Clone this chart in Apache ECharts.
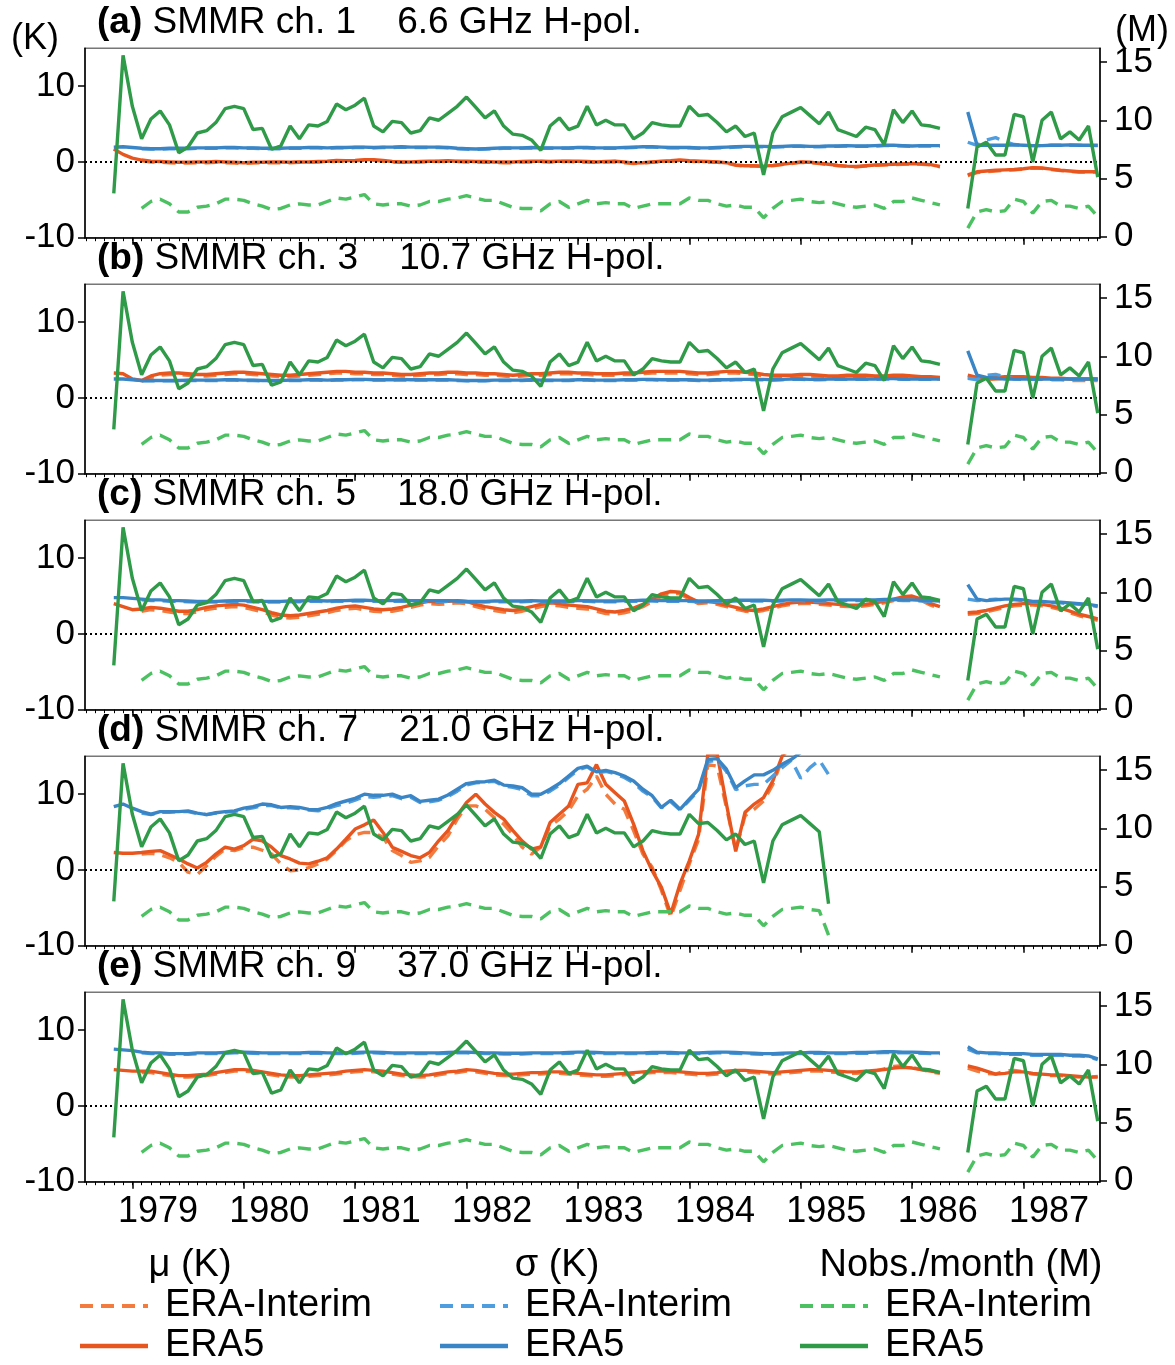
<!DOCTYPE html>
<html><head><meta charset="utf-8">
<script src="https://cdn.jsdelivr.net/npm/echarts@6/dist/echarts.min.js"></script>
<style>html,body{margin:0;padding:0;background:#fff}#c{width:1175px;height:1365px}</style>
</head><body><div id="c"></div><script>
// ---- time axis: monthly points, first month Nov 1978 ----
const FIRST_YEAR = 1978, FIRST_MONTH = 11;
const YEARS = [1979, 1980, 1981, 1982, 1983, 1984, 1985, 1986, 1987];

// ---- (a) SMMR ch.1 6.6 GHz ----
const muA_E5 = [
1.7, 1.0, 0.5, 0.25, 0.1, 0.05, 0.0, -0.05, -0.05, 0.0, 0.0, 0.05,
0.0, -0.05, -0.1, -0.05, -0.05, 0.0, 0.0, -0.05, 0.0, 0.0, 0.05, 0.1,
0.2, 0.15, 0.2, 0.3, 0.3, 0.2, 0.05, 0.0, 0.0, 0.05, 0.1, 0.1,
0.15, 0.1, 0.1, 0.05, 0.05, 0.0, 0.0, 0.0, 0.05, 0.1, 0.1, 0.05,
0.1, 0.1, 0.1, 0.05, 0.0, 0.05, 0.1, 0.0, -0.15, -0.1, 0.0, 0.1,
0.15, 0.25, 0.15, 0.1, 0.05, 0.0, -0.1, -0.4, -0.5, -0.5, -0.55, -0.45,
-0.3, -0.15, 0.0, -0.05, -0.15, -0.3, -0.45, -0.55, -0.6, -0.5, -0.4, -0.35,
-0.3, -0.25, -0.2, -0.25, -0.35, -0.6, null, null, -1.7, -1.3, -1.2, -1.1,
-1.05, -1.0, -0.9, -0.75, -0.8, -0.95, -1.1, -1.2, -1.3, -1.3, -1.3];
const muA_EI = [
null, null, null, 0.15, 0.0, -0.05, -0.1, -0.15, -0.15, -0.1, -0.1, -0.05,
-0.1, -0.15, -0.2, -0.15, -0.1, -0.1, -0.1, -0.1, -0.05, 0.0, 0.0, 0.05,
0.1, 0.1, 0.15, 0.2, 0.2, 0.1, 0.0, -0.05, -0.05, 0.0, 0.05, 0.05,
0.1, 0.05, 0.0, 0.0, -0.05, -0.05, -0.1, -0.1, 0.0, 0.0, 0.05, 0.0,
0.05, 0.05, 0.0, 0.0, -0.05, 0.0, 0.05, -0.1, -0.2, -0.15, -0.05, 0.05,
0.1, 0.2, 0.1, 0.05, 0.0, -0.05, -0.15, -0.45, -0.55, -0.55, -0.6, -0.5,
-0.35, -0.2, -0.05, -0.1, -0.2, -0.35, -0.5, -0.6, -0.65, -0.55, -0.45, -0.4,
-0.35, -0.3, -0.25, -0.3, -0.4, -0.65, null, null, -1.8, -1.4, -1.3, -1.2,
-1.1, -1.05, -0.95, -0.8, -0.85, -1.0, -1.15, -1.25, -1.35, -1.35, -1.35];
const sigA_E5 = [
1.95, 2.0, 1.9, 1.8, 1.75, 1.75, 1.8, 1.8, 1.8, 1.85, 1.85, 1.85,
1.9, 1.9, 1.85, 1.85, 1.8, 1.8, 1.8, 1.85, 1.85, 1.9, 1.9, 1.85,
1.9, 1.9, 1.95, 1.95, 1.9, 1.95, 1.95, 2.0, 1.95, 1.95, 1.95, 1.95,
1.9, 1.8, 1.75, 1.7, 1.75, 1.8, 1.85, 1.85, 1.85, 1.9, 1.85, 1.85,
1.85, 1.85, 1.9, 1.9, 1.85, 1.85, 1.85, 1.9, 1.95, 2.0, 2.0, 1.95,
1.9, 1.9, 1.9, 1.85, 1.85, 1.9, 1.95, 2.0, 2.05, 2.05, 2.05, 2.0,
2.05, 2.1, 2.1, 2.05, 2.05, 2.1, 2.1, 2.15, 2.1, 2.1, 2.15, 2.2,
2.2, 2.15, 2.1, 2.15, 2.15, 2.15, null, null, 6.6, 2.2, 2.2, 2.2,
2.2, 2.25, 2.2, 2.15, 2.15, 2.2, 2.2, 2.25, 2.2, 2.2, 2.2];
const sigA_EI = [
null, null, null, 1.75, 1.7, 1.7, 1.75, 1.75, 1.75, 1.8, 1.8, 1.8,
1.85, 1.85, 1.8, 1.8, 1.75, 1.75, 1.75, 1.8, 1.8, 1.85, 1.85, 1.8,
1.85, 1.85, 1.9, 1.9, 1.85, 1.9, 1.9, 1.95, 1.9, 1.9, 1.9, 1.9,
1.85, 1.75, 1.7, 1.65, 1.7, 1.75, 1.8, 1.8, 1.8, 1.85, 1.8, 1.8,
1.8, 1.8, 1.85, 1.85, 1.8, 1.8, 1.8, 1.85, 1.9, 1.95, 1.95, 1.9,
1.85, 1.85, 1.85, 1.8, 1.8, 1.85, 1.9, 1.95, 2.0, 2.0, 2.0, 1.95,
2.0, 2.05, 2.05, 2.0, 2.0, 2.05, 2.05, 2.1, 2.05, 2.05, 2.1, 2.15,
2.15, 2.1, 2.05, 2.1, 2.1, 2.1, null, null, 2.6, 2.2, 2.9, 3.2,
2.7, 2.3, 2.2, 2.15, 2.15, 2.2, 2.2, 2.2, 2.2, 2.15, 2.15];

// ---- observations per month (M), shared by ch. 1/3/5/9 ----
const obs_E5 = [
3.7, 15.6, 11.2, 8.4, 10.1, 10.8, 9.6, 7.2, 7.7, 8.9, 9.1, 9.8,
11.0, 11.2, 11.0, 9.2, 9.3, 7.5, 7.8, 9.5, 8.4, 9.6, 9.5, 9.9,
11.4, 10.9, 11.3, 11.9, 9.5, 9.0, 9.9, 9.8, 8.9, 9.1, 10.2, 10.0,
10.6, 11.2, 12.0, 11.1, 10.2, 10.8, 9.5, 8.8, 8.7, 8.3, 7.4, 9.5,
10.2, 9.2, 9.5, 11.2, 9.6, 10.0, 9.6, 9.6, 8.4, 8.9, 9.8, 9.6,
9.5, 9.5, 11.2, 10.4, 10.5, 9.8, 9.0, 9.5, 8.6, 8.9, 5.3, 8.9,
10.3, 10.7, 11.1, 10.4, 9.7, 10.7, 9.2, 8.9, 8.6, 9.4, 9.2, 7.9,
10.9, 9.8, 10.8, 9.6, 9.5, 9.3, null, null, 2.4, 7.7, 8.1, 7.0,
7.0, 10.5, 10.3, 6.4, 10.0, 10.7, 8.4, 9.0, 8.3, 9.5, 5.1];
const obs_EI = [
null, null, null, 2.4, 3.0, 3.2, 2.8, 2.1, 2.1, 2.5, 2.6, 2.8,
3.2, 3.2, 3.1, 2.8, 2.6, 2.3, 2.4, 2.7, 2.8, 2.7, 2.7, 3.0,
3.3, 3.2, 3.4, 3.6, 2.8, 2.7, 2.8, 2.8, 2.6, 2.7, 3.0, 3.0,
3.2, 3.3, 3.5, 3.3, 3.1, 3.1, 2.8, 2.5, 2.4, 2.4, 2.2, 2.8,
3.0, 2.5, 2.8, 3.1, 2.8, 2.9, 2.8, 2.8, 2.4, 2.6, 2.8, 2.8,
2.8, 2.8, 3.3, 3.1, 3.1, 2.8, 2.6, 2.7, 2.5, 2.5, 1.6, 2.4,
3.0, 3.1, 3.2, 3.0, 2.9, 3.0, 2.8, 2.6, 2.5, 2.6, 2.7, 2.4,
3.0, 3.0, 3.3, 3.1, 2.9, 2.7, null, null, 0.7, 2.1, 2.3, 2.1,
2.2, 3.2, 3.0, 2.0, 3.0, 3.1, 2.6, 2.6, 2.4, 2.6, 1.7];

// ---- (b) SMMR ch.3 10.7 GHz ----
const muB_E5 = [
3.3, 3.2, 2.5, 2.3, 2.9, 3.2, 3.3, 3.3, 3.2, 3.1, 3.1, 3.2,
3.3, 3.4, 3.4, 3.3, 3.2, 3.1, 3.0, 3.0, 3.1, 3.2, 3.3, 3.4,
3.5, 3.5, 3.4, 3.4, 3.3, 3.3, 3.2, 3.1, 3.1, 3.2, 3.3, 3.3,
3.4, 3.4, 3.3, 3.3, 3.2, 3.2, 3.1, 3.0, 3.1, 3.2, 3.2, 3.3,
3.4, 3.4, 3.3, 3.3, 3.2, 3.2, 3.2, 3.3, 3.3, 3.4, 3.5, 3.5,
3.5, 3.5, 3.4, 3.3, 3.3, 3.4, 3.5, 3.5, 3.4, 3.3, 3.1, 3.0,
3.0, 3.0, 3.1, 3.1, 3.0, 2.9, 2.9, 3.0, 3.0, 3.0, 2.9, 2.9,
3.0, 3.0, 2.9, 2.8, 2.8, 2.7, null, null, 3.0, 2.7, 2.6, 2.7,
2.8, 2.8, 2.8, 2.7, 2.7, 2.6, 2.6, 2.5, 2.5, 2.5, 2.5];
const muB_EI = [
null, null, null, 2.2, 2.7, 3.0, 3.1, 3.1, 3.0, 2.9, 2.9, 3.0,
3.1, 3.2, 3.2, 3.1, 3.0, 2.9, 2.8, 2.8, 2.9, 3.0, 3.1, 3.2,
3.3, 3.3, 3.2, 3.2, 3.1, 3.1, 3.0, 2.9, 2.9, 3.0, 3.1, 3.1,
3.2, 3.2, 3.1, 3.1, 3.0, 3.0, 2.9, 2.8, 2.9, 3.0, 3.0, 3.1,
3.2, 3.2, 3.1, 3.1, 3.0, 3.0, 3.0, 3.1, 3.1, 3.2, 3.3, 3.3,
3.3, 3.3, 3.2, 3.1, 3.1, 3.2, 3.3, 3.3, 3.2, 3.1, 2.9, 2.8,
2.8, 2.8, 2.9, 2.9, 2.8, 2.7, 2.7, 2.8, 2.8, 2.8, 2.7, 2.7,
2.8, 2.8, 2.7, 2.6, 2.6, 2.5, null, null, 2.8, 2.5, 2.4, 2.5,
2.6, 2.6, 2.6, 2.5, 2.5, 2.4, 2.4, 2.3, 2.3, 2.3, 2.3];
const sigB_E5 = [
2.5, 2.5, 2.4, 2.3, 2.3, 2.3, 2.3, 2.3, 2.35, 2.35, 2.35, 2.35,
2.4, 2.4, 2.35, 2.35, 2.3, 2.3, 2.3, 2.35, 2.35, 2.4, 2.4, 2.35,
2.4, 2.4, 2.45, 2.45, 2.4, 2.4, 2.4, 2.45, 2.4, 2.4, 2.4, 2.4,
2.4, 2.35, 2.3, 2.3, 2.3, 2.35, 2.35, 2.35, 2.35, 2.4, 2.35, 2.35,
2.35, 2.35, 2.4, 2.4, 2.35, 2.35, 2.35, 2.4, 2.4, 2.45, 2.45, 2.4,
2.4, 2.4, 2.4, 2.35, 2.35, 2.4, 2.4, 2.45, 2.45, 2.45, 2.45, 2.4,
2.45, 2.5, 2.5, 2.45, 2.45, 2.5, 2.5, 2.5, 2.5, 2.5, 2.5, 2.55,
2.55, 2.5, 2.5, 2.5, 2.5, 2.5, null, null, 6.2, 3.0, 2.7, 2.6,
2.5, 2.5, 2.5, 2.5, 2.5, 2.5, 2.5, 2.5, 2.5, 2.5, 2.5];
const sigB_EI = [
null, null, null, 2.25, 2.25, 2.25, 2.25, 2.25, 2.3, 2.3, 2.3, 2.3,
2.35, 2.35, 2.3, 2.3, 2.25, 2.25, 2.25, 2.3, 2.3, 2.35, 2.35, 2.3,
2.35, 2.35, 2.4, 2.4, 2.35, 2.35, 2.35, 2.4, 2.35, 2.35, 2.35, 2.35,
2.35, 2.3, 2.25, 2.25, 2.25, 2.3, 2.3, 2.3, 2.3, 2.35, 2.3, 2.3,
2.3, 2.3, 2.35, 2.35, 2.3, 2.3, 2.3, 2.35, 2.35, 2.4, 2.4, 2.35,
2.35, 2.35, 2.35, 2.3, 2.3, 2.35, 2.35, 2.4, 2.4, 2.4, 2.4, 2.35,
2.4, 2.45, 2.45, 2.4, 2.4, 2.45, 2.45, 2.45, 2.45, 2.45, 2.45, 2.5,
2.5, 2.45, 2.45, 2.45, 2.45, 2.45, null, null, 2.6, 2.4, 3.0, 3.1,
2.8, 2.5, 2.45, 2.45, 2.45, 2.45, 2.45, 2.45, 2.45, 2.45, 2.45];

// ---- (c) SMMR ch.5 18.0 GHz ----
const muC_E5 = [
4.0, 3.6, 3.2, 3.3, 3.5, 3.4, 3.2, 3.0, 3.0, 3.2, 3.5, 3.7,
3.8, 3.9, 3.8, 3.5, 3.2, 2.8, 2.5, 2.4, 2.5, 2.7, 2.9, 3.1,
3.4, 3.6, 3.7, 3.5, 3.3, 3.2, 3.3, 3.5, 3.8, 4.1, 4.3, 4.2,
4.3, 4.4, 4.3, 3.9, 3.6, 3.4, 3.2, 3.1, 3.3, 3.6, 3.9, 4.1,
4.0, 3.8, 3.7, 3.6, 3.3, 3.0, 2.9, 3.1, 3.4, 3.9, 4.6, 5.3,
5.6, 5.5, 4.8, 4.2, 4.3, 4.1, 3.8, 3.5, 3.2, 3.1, 3.3, 3.6,
3.9, 4.1, 4.2, 4.2, 4.1, 4.0, 3.9, 3.8, 3.8, 3.9, 4.1, 4.3,
4.6, 4.9, 5.0, 4.6, 4.0, 3.6, null, null, 2.8, 2.9, 3.1, 3.4,
3.7, 3.9, 4.0, 4.0, 3.9, 3.7, 3.4, 3.0, 2.6, 2.3, 2.0];
const muC_EI = [
null, null, null, 3.0, 3.2, 3.1, 2.9, 2.7, 2.7, 2.9, 3.2, 3.4,
3.5, 3.6, 3.5, 3.2, 2.9, 2.5, 2.2, 2.1, 2.2, 2.4, 2.6, 2.8,
3.1, 3.3, 3.4, 3.2, 3.0, 2.9, 3.0, 3.2, 3.5, 3.8, 4.0, 3.9,
4.0, 4.1, 4.0, 3.6, 3.3, 3.1, 2.9, 2.8, 3.0, 3.3, 3.6, 3.8,
3.7, 3.5, 3.4, 3.3, 3.0, 2.7, 2.6, 2.8, 3.1, 3.6, 4.3, 5.0,
5.4, 5.3, 4.6, 4.0, 4.1, 3.9, 3.6, 3.3, 3.0, 2.9, 3.1, 3.4,
3.7, 3.9, 4.0, 4.0, 3.9, 3.8, 3.7, 3.6, 3.6, 3.7, 3.9, 4.1,
4.4, 4.7, 4.8, 4.4, 3.8, 3.4, null, null, 2.6, 2.7, 2.9, 3.2,
3.5, 3.7, 3.8, 3.8, 3.7, 3.5, 3.2, 2.8, 2.4, 2.1, 1.8];
const sigC_E5 = [
4.8, 4.8, 4.7, 4.6, 4.5, 4.5, 4.4, 4.4, 4.35, 4.3, 4.3, 4.3,
4.35, 4.4, 4.4, 4.35, 4.3, 4.3, 4.3, 4.35, 4.35, 4.4, 4.4, 4.35,
4.4, 4.4, 4.45, 4.45, 4.4, 4.4, 4.4, 4.45, 4.4, 4.4, 4.4, 4.4,
4.4, 4.35, 4.3, 4.3, 4.3, 4.35, 4.35, 4.35, 4.35, 4.4, 4.35, 4.35,
4.35, 4.35, 4.4, 4.4, 4.35, 4.35, 4.35, 4.4, 4.4, 4.45, 4.45, 4.4,
4.4, 4.4, 4.4, 4.35, 4.35, 4.4, 4.4, 4.45, 4.45, 4.45, 4.45, 4.4,
4.45, 4.5, 4.5, 4.45, 4.45, 4.5, 4.5, 4.5, 4.5, 4.5, 4.5, 4.55,
4.55, 4.5, 4.5, 4.45, 4.4, 4.35, null, null, 6.5, 4.6, 4.4, 4.5,
4.6, 4.6, 4.5, 4.3, 4.3, 4.2, 4.2, 4.1, 4.0, 3.9, 3.7];
const sigC_EI = [
null, null, null, 4.5, 4.4, 4.4, 4.3, 4.3, 4.25, 4.2, 4.2, 4.2,
4.25, 4.3, 4.3, 4.25, 4.2, 4.2, 4.2, 4.25, 4.25, 4.3, 4.3, 4.25,
4.3, 4.3, 4.35, 4.35, 4.3, 4.3, 4.3, 4.35, 4.3, 4.3, 4.3, 4.3,
4.3, 4.25, 4.2, 4.2, 4.2, 4.25, 4.25, 4.25, 4.25, 4.3, 4.25, 4.25,
4.25, 4.25, 4.3, 4.3, 4.25, 4.25, 4.25, 4.3, 4.3, 4.35, 4.35, 4.3,
4.3, 4.3, 4.3, 4.25, 4.25, 4.3, 4.3, 4.35, 4.35, 4.35, 4.35, 4.3,
4.35, 4.4, 4.4, 4.35, 4.35, 4.4, 4.4, 4.4, 4.4, 4.4, 4.4, 4.45,
4.45, 4.4, 4.4, 4.35, 4.3, 4.25, null, null, 4.6, 4.4, 4.5, 4.6,
4.5, 4.5, 4.4, 4.2, 4.2, 4.1, 4.1, 4.0, 3.9, 3.8, 3.6];

// ---- (d) SMMR ch.7 21.0 GHz (ends early 1985) ----
const muD_E5 = [
2.3, 2.2, 2.2, 2.3, 2.45, 2.55, 2.0, 1.45, 0.8, 0.25, 1.0, 2.1,
3.0, 2.75, 3.2, 4.05, 3.85, 3.0, 1.9, 1.45, 0.9, 0.8, 1.15, 1.6,
2.75, 4.05, 5.4, 5.95, 6.6, 4.95, 3.0, 2.45, 1.9, 1.6, 2.3, 3.85,
5.2, 7.15, 8.9, 10.0, 8.7, 7.6, 6.7, 5.2, 3.8, 2.75, 3.05, 6.25,
7.35, 8.45, 11.3, 11.5, 13.9, 11.3, 10.2, 9.1, 6.05, 2.55, -0.1, -2.3,
-5.8, -1.85, 1.2, 4.7, 15.3, 15.3, 8.7, 2.45, 7.6, 8.7, 9.55, 11.75,
15.0, 17.0, 18.0, 18.0, 18.0, 18.0];
const muD_EI = [
null, null, null, 2.1, 2.2, 2.0, 1.6, 1.0, -0.3, -0.6, 0.55, 1.8,
2.75, 2.55, 2.95, 3.0, 2.6, 2.1, 0.8, -0.1, 0.0, 0.3, 0.8, 1.45,
2.55, 3.85, 4.65, 4.95, 4.95, 4.3, 2.55, 1.9, 1.0, 1.2, 1.65, 3.2,
4.5, 6.7, 8.45, 8.45, 8.0, 6.9, 6.05, 4.7, 3.0, 2.1, 3.0, 5.8,
6.7, 7.8, 9.8, 10.65, 12.4, 10.0, 8.7, 8.0, 5.2, 2.1, 0.35, -2.7,
-6.2, -2.7, 0.8, 4.05, 13.9, 13.7, 8.25, 2.6, 7.15, 8.0, 9.1, 11.3,
14.6, 17.0, 18.0, 18.0, 18.0, 18.0];
const sigD_E5 = [
8.35, 8.7, 8.15, 7.7, 7.35, 7.7, 7.7, 7.7, 7.8, 7.5, 7.3, 7.55,
7.7, 7.8, 8.15, 8.35, 8.7, 8.6, 8.25, 8.35, 8.25, 8.0, 7.95, 8.25,
8.75, 9.1, 9.45, 10.0, 9.85, 9.85, 10.0, 9.55, 9.8, 9.05, 9.2, 9.35,
9.9, 10.65, 11.4, 11.6, 11.65, 11.85, 11.2, 11.1, 10.85, 10.0, 10.0, 10.65,
11.4, 12.4, 13.4, 13.7, 12.95, 13.15, 12.85, 12.4, 11.75, 10.65, 9.8, 8.25,
9.2, 8.0, 9.35, 10.65, 14.6, 14.7, 13.3, 10.85, 11.75, 12.55, 12.55, 13.15,
13.95, 14.6, 15.5, 16.5, 16.5, 16.5];
const sigD_EI = [
null, null, null, 7.5, 7.3, 7.6, 7.6, 7.7, 7.7, 7.45, 7.3, 7.5,
7.65, 7.7, 8.0, 8.2, 8.5, 8.5, 8.2, 8.2, 8.1, 7.9, 7.8, 8.1,
8.5, 8.8, 9.2, 9.7, 9.6, 9.7, 9.8, 9.4, 9.6, 8.9, 9.0, 9.2,
9.7, 10.4, 11.2, 11.5, 11.6, 11.7, 11.1, 10.9, 10.6, 9.8, 9.8, 10.4,
11.2, 12.2, 13.2, 13.6, 12.8, 13.0, 12.7, 12.2, 11.5, 10.4, 9.6, 8.2,
9.0, 7.9, 9.2, 10.5, 14.3, 14.5, 13.0, 10.6, 11.1, 11.3, 11.3, 12.4,
13.5, 14.5, 12.1, 13.5, 14.5, 12.6];
const CH7_LAST_OBS_E5 = 3.5, CH7_LAST_OBS_EI = 0.8;

// ---- (e) SMMR ch.9 37.0 GHz ----
const muE_E5 = [
4.8, 4.7, 4.6, 4.6, 4.6, 4.4, 4.2, 4.0, 4.0, 4.1, 4.2, 4.4,
4.6, 4.8, 4.8, 4.7, 4.5, 4.3, 4.1, 4.0, 4.0, 4.1, 4.2, 4.3,
4.4, 4.6, 4.7, 4.8, 4.7, 4.6, 4.4, 4.2, 4.1, 4.0, 4.1, 4.3,
4.5, 4.6, 4.8, 4.7, 4.5, 4.3, 4.2, 4.2, 4.3, 4.4, 4.4, 4.5,
4.5, 4.4, 4.3, 4.2, 4.1, 4.1, 4.2, 4.3, 4.4, 4.5, 4.6, 4.6,
4.6, 4.5, 4.4, 4.3, 4.3, 4.4, 4.6, 4.7, 4.7, 4.6, 4.5, 4.4,
4.5, 4.6, 4.7, 4.8, 4.8, 4.7, 4.6, 4.5, 4.5, 4.6, 4.7, 4.8,
5.0, 5.1, 5.0, 4.8, 4.6, 4.4, null, null, 5.3, 5.0, 4.6, 4.2,
4.3, 4.5, 4.5, 4.3, 4.2, 4.1, 4.1, 4.0, 3.9, 3.8, 3.8];
const muE_EI = [
null, null, null, 4.4, 4.4, 4.2, 4.0, 3.8, 3.8, 3.9, 4.0, 4.2,
4.4, 4.6, 4.6, 4.5, 4.3, 4.1, 3.9, 3.8, 3.8, 3.9, 4.0, 4.1,
4.2, 4.4, 4.5, 4.6, 4.5, 4.4, 4.2, 4.0, 3.9, 3.8, 3.9, 4.1,
4.3, 4.4, 4.6, 4.5, 4.3, 4.1, 4.0, 4.0, 4.1, 4.2, 4.2, 4.3,
4.3, 4.2, 4.1, 4.0, 3.9, 3.9, 4.0, 4.1, 4.2, 4.3, 4.4, 4.4,
4.4, 4.3, 4.2, 4.1, 4.1, 4.2, 4.4, 4.5, 4.5, 4.4, 4.3, 4.2,
4.3, 4.4, 4.5, 4.6, 4.6, 4.5, 4.4, 4.3, 4.3, 4.4, 4.6, 4.9,
5.2, 5.3, 5.1, 4.8, 4.5, 4.3, null, null, 5.0, 4.6, 4.3, 4.2,
4.6, 4.7, 4.5, 4.2, 4.1, 4.0, 4.0, 3.9, 3.8, 3.8, 3.9];
const sigE_E5 = [
7.5, 7.4, 7.3, 7.1, 7.0, 7.0, 6.9, 6.9, 6.9, 7.0, 7.0, 7.0,
7.05, 7.1, 7.1, 7.05, 7.0, 7.0, 7.0, 7.0, 7.0, 7.05, 7.05, 7.0,
7.0, 7.0, 7.05, 7.1, 7.1, 7.05, 7.0, 7.0, 7.0, 7.0, 7.0, 7.0,
7.05, 7.1, 7.1, 7.05, 7.0, 7.0, 6.95, 6.95, 6.95, 7.0, 7.0, 7.0,
7.0, 7.05, 7.1, 7.1, 7.05, 7.0, 7.0, 7.0, 7.0, 7.0, 7.05, 7.05,
7.05, 7.0, 7.0, 7.0, 7.05, 7.1, 7.1, 7.05, 7.0, 6.95, 6.9, 6.9,
6.95, 7.0, 7.0, 7.05, 7.05, 7.0, 7.0, 7.0, 7.05, 7.05, 7.1, 7.15,
7.15, 7.1, 7.1, 7.05, 7.0, 7.0, null, null, 7.8, 7.1, 7.0, 7.0,
6.9, 6.9, 6.9, 6.8, 6.8, 6.8, 6.8, 6.7, 6.7, 6.6, 6.2];
const sigE_EI = [
null, null, null, 7.0, 6.9, 6.9, 6.8, 6.8, 6.8, 6.9, 6.9, 6.9,
6.95, 7.0, 7.0, 6.95, 6.9, 6.9, 6.9, 6.9, 6.9, 6.95, 6.95, 6.9,
6.9, 6.9, 6.95, 7.0, 7.0, 6.95, 6.9, 6.9, 6.9, 6.9, 6.9, 6.9,
6.95, 7.0, 7.0, 6.95, 6.9, 6.9, 6.85, 6.85, 6.85, 6.9, 6.9, 6.9,
6.9, 6.95, 7.0, 7.0, 6.95, 6.9, 6.9, 6.9, 6.9, 6.9, 6.95, 6.95,
6.95, 6.9, 6.9, 6.9, 6.95, 7.0, 7.0, 6.95, 6.9, 6.85, 6.8, 6.8,
6.85, 6.9, 6.9, 6.95, 6.95, 6.9, 6.9, 6.9, 6.95, 6.95, 7.0, 7.05,
7.05, 7.0, 7.0, 6.95, 6.9, 6.9, null, null, 7.5, 7.0, 6.9, 6.9,
6.8, 6.8, 6.8, 6.7, 6.7, 6.7, 6.7, 6.6, 6.6, 6.5, 6.1];

// ---- tick labels ----
const K_TICKS = [-10, 0, 10];
const M_TICKS = [0, 5, 10, 15];

// ---------------- build chart ----------------
const obsD_E5 = obs_E5.slice(0, 77).concat([CH7_LAST_OBS_E5]);
const obsD_EI = obs_EI.slice(0, 77).concat([CH7_LAST_OBS_EI]);

const panels = [
  {tag: '(a)', title: ' SMMR ch. 1    6.6 GHz H-pol.', mu: [muA_EI, muA_E5], sig: [sigA_EI, sigA_E5], obs: [obs_EI, obs_E5]},
  {tag: '(b)', title: ' SMMR ch. 3    10.7 GHz H-pol.', mu: [muB_EI, muB_E5], sig: [sigB_EI, sigB_E5], obs: [obs_EI, obs_E5]},
  {tag: '(c)', title: ' SMMR ch. 5    18.0 GHz H-pol.', mu: [muC_EI, muC_E5], sig: [sigC_EI, sigC_E5], obs: [obs_EI, obs_E5]},
  {tag: '(d)', title: ' SMMR ch. 7    21.0 GHz H-pol.', mu: [muD_EI, muD_E5], sig: [sigD_EI, sigD_E5], obs: [obsD_EI, obsD_E5]},
  {tag: '(e)', title: ' SMMR ch. 9    37.0 GHz H-pol.', mu: [muE_EI, muE_E5], sig: [sigE_EI, sigE_E5], obs: [obs_EI, obs_E5]}
];

const FONT = '"Liberation Sans", Arial, Helvetica, sans-serif';
const C = {
  muE5: '#e8561f', muEI: '#f27b3d',
  sigE5: '#3a85c5', sigEI: '#4e9ddf',
  obsE5: '#2f9a48', obsEI: '#4cc162'
};
const GRID_LEFT = 85, GRID_W = 1015, GRID_TOP0 = 48.3, GRID_H = 189.4, GRID_STEP = 236;
const XMIN = 1978.575, XMAX = 1987.687;
const DASH = [13, 8];

function monthX(i) { return FIRST_YEAR + (FIRST_MONTH - 1 + i) / 12; }
function toXY(arr) { return arr.map((v, i) => [monthX(i), v == null ? '-' : v]); }

const monthTicks = [];
for (let m = 0; ; m++) { const x = 1978 + (7 + m) / 12; if (x > XMAX + 1e-6) break; if (x >= XMIN) monthTicks.push(x); }
const yearLabelPos = YEARS.map(y => y + 0.23);

const grids = [], xAxes = [], yAxes = [], series = [], graphics = [];
const axisLineStyle = {color: '#000', width: 1.5};

panels.forEach((p, k) => {
  const top = GRID_TOP0 + k * GRID_STEP;
  grids.push({left: GRID_LEFT, top: top, width: GRID_W, height: GRID_H, show: true, borderColor: '#777', borderWidth: 1.5, containLabel: false});
  xAxes.push({
    gridIndex: k, type: 'value', min: XMIN, max: XMAX, position: 'bottom',
    axisLine: {show: true, onZero: false, lineStyle: axisLineStyle},
    axisTick: {show: true, length: 7, lineStyle: axisLineStyle, customValues: YEARS},
    axisLabel: {show: k === 4, customValues: yearLabelPos, formatter: v => String(Math.floor(v + 1e-6)),
      fontSize: 36, fontFamily: FONT, color: '#000', margin: 12},
    splitLine: {show: false}
  });
  xAxes.push({
    gridIndex: k, type: 'value', min: XMIN, max: XMAX, position: 'bottom', offset: 0,
    axisLine: {show: false, onZero: false},
    axisTick: {show: true, length: 3.5, lineStyle: {color: '#000', width: 1}, customValues: monthTicks},
    axisLabel: {show: false}, splitLine: {show: false}
  });
  yAxes.push({
    gridIndex: k, type: 'value', min: -10, max: 15, position: 'left',
    axisLine: {show: true, onZero: false, lineStyle: axisLineStyle},
    axisTick: {show: true, length: 7, lineStyle: axisLineStyle, customValues: K_TICKS},
    axisLabel: {customValues: K_TICKS, fontSize: 35, fontFamily: FONT, color: '#000', margin: 10},
    splitLine: {show: false}
  });
  yAxes.push({
    gridIndex: k, type: 'value', min: -0.12, max: 16.2, position: 'right',
    axisLine: {show: true, onZero: false, lineStyle: axisLineStyle},
    axisTick: {show: true, length: 7, lineStyle: axisLineStyle, customValues: M_TICKS},
    axisLabel: {customValues: M_TICKS, fontSize: 35, fontFamily: FONT, color: '#000', margin: 14},
    splitLine: {show: false}
  });
  const xi = 2 * k, yl = 2 * k, yr = 2 * k + 1;
  const mk = (data, color, dashed, yIdx, z, extra) => Object.assign({
    type: 'line', xAxisIndex: xi, yAxisIndex: yIdx, data: toXY(data), showSymbol: false, symbol: 'none',
    connectNulls: false, clip: true, z: z, silent: true,
    lineStyle: {color: color, width: 3.4, type: dashed ? DASH : 'solid'}
  }, extra || {});
  series.push(mk(p.mu[0], C.muEI, true, yl, 2, {
    markLine: {silent: true, symbol: ['none', 'none'], label: {show: false},
      lineStyle: {type: [2, 3], color: '#000', width: 2}, data: [{yAxis: 0}], animation: false}
  }));
  series.push(mk(p.mu[1], C.muE5, false, yl, 3));
  series.push(mk(p.sig[0], C.sigEI, true, yl, 4));
  series.push(mk(p.sig[1], C.sigE5, false, yl, 5));
  series.push(mk(p.obs[0], C.obsEI, true, yr, 6));
  series.push(mk(p.obs[1], C.obsE5, false, yr, 7));

  graphics.push({
    type: 'text', x: 97, y: 23 + k * GRID_STEP,
    style: {text: '{b|' + p.tag + '}' + p.title, font: '37px ' + FONT, fill: '#000',
      verticalAlign: 'middle', textVerticalAlign: 'middle',
      rich: {b: {fontWeight: 'bold', fontSize: 37, fontFamily: FONT, fill: '#000'}}}
  });
});

graphics.push({type: 'text', x: 35, y: 39, style: {text: '(K)', font: '36px ' + FONT, fill: '#000', align: 'center', textAlign: 'center', verticalAlign: 'middle', textVerticalAlign: 'middle'}});
graphics.push({type: 'text', x: 1142, y: 31, style: {text: '(M)', font: '36px ' + FONT, fill: '#000', align: 'center', textAlign: 'center', verticalAlign: 'middle', textVerticalAlign: 'middle'}});

// legend
const legendCols = [
  {head: 'μ (K)', hx: 190, sx: 80, c5: C.muE5, cI: C.muEI},
  {head: 'σ (K)', hx: 557, sx: 440, c5: C.sigE5, cI: C.sigEI},
  {head: 'Nobs./month (M)', hx: 961, sx: 800, c5: C.obsE5, cI: C.obsEI}
];
legendCols.forEach(c => {
  graphics.push({type: 'text', x: c.hx, y: 1266, style: {text: c.head, font: '38px ' + FONT, fill: '#000', align: 'center', textAlign: 'center', verticalAlign: 'middle', textVerticalAlign: 'middle'}});
  graphics.push({type: 'line', shape: {x1: c.sx, y1: 1306, x2: c.sx + 68, y2: 1306}, style: {stroke: c.cI, lineWidth: 4, lineDash: [13, 8]}});
  graphics.push({type: 'line', shape: {x1: c.sx, y1: 1346, x2: c.sx + 68, y2: 1346}, style: {stroke: c.c5, lineWidth: 4.5}});
  graphics.push({type: 'text', x: c.sx + 85, y: 1306, style: {text: 'ERA-Interim', font: '38px ' + FONT, fill: '#000', verticalAlign: 'middle', textVerticalAlign: 'middle'}});
  graphics.push({type: 'text', x: c.sx + 85, y: 1346, style: {text: 'ERA5', font: '38px ' + FONT, fill: '#000', verticalAlign: 'middle', textVerticalAlign: 'middle'}});
});

const chart = echarts.init(document.getElementById('c'), null, {renderer: 'canvas'});
chart.setOption({
  animation: false,
  backgroundColor: '#fff',
  grid: grids, xAxis: xAxes, yAxis: yAxes, series: series, graphic: graphics
});
</script></body></html>
